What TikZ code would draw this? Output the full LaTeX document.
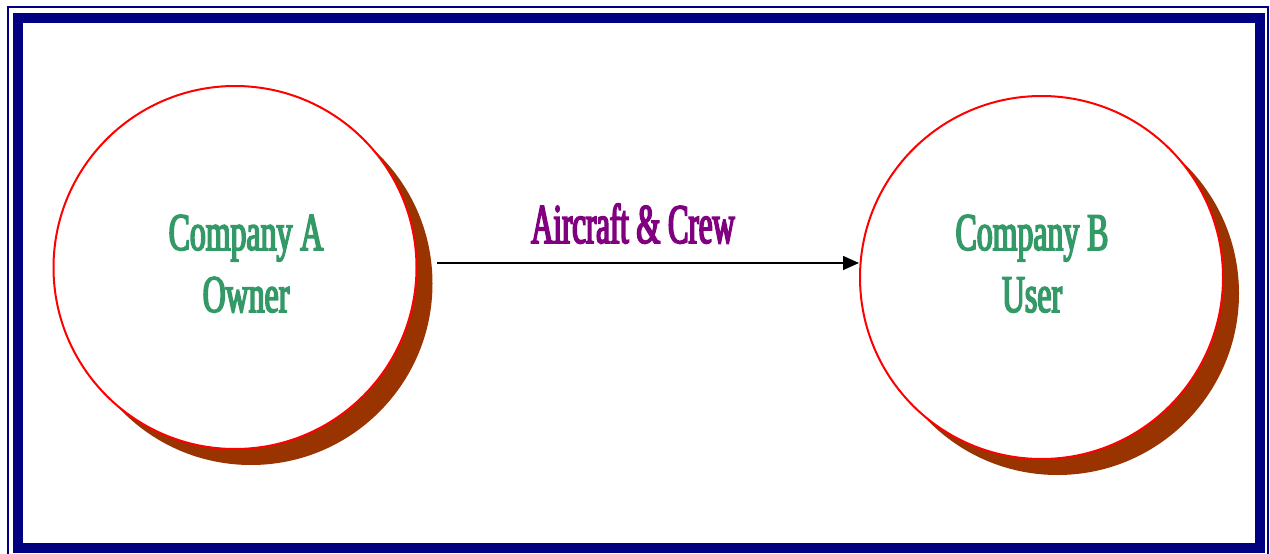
\documentclass[tikz,border=0pt]{standalone}
\usepackage{fontspec}
\usetikzlibrary{shadows,arrows.meta}
\newfontfamily\condfont[FakeStretch=0.6,FakeBold=3]{Liberation Serif}
\newfontfamily\labfont[FakeStretch=0.55,FakeBold=3]{Liberation Serif}
\definecolor{navy}{HTML}{000080}
\definecolor{ringred}{HTML}{FF0000}
\definecolor{shadowbrown}{HTML}{993300}
\definecolor{txtgreen}{HTML}{339966}
\definecolor{txtpurple}{HTML}{800080}
\tikzset{
  company/.style={circle, draw=ringred, line width=2pt, fill=white, minimum size=363pt, inner sep=0pt,
    drop shadow={shadow xshift=16pt, shadow yshift=-16pt, fill=shadowbrown, opacity=1}},
  nametext/.style={anchor=base, text=txtgreen, font=\condfont\fontsize{53}{62}\selectfont, inner sep=0pt},
  flowlabel/.style={anchor=base, text=txtpurple, font=\labfont\fontsize{56}{66}\selectfont, inner sep=0pt},
  flow/.style={draw=black, line width=1.5pt, -{Triangle[length=16pt,width=14pt]}}
}
\begin{document}
\begin{tikzpicture}[x=1pt,y=-1pt]
\useasboundingbox (0,0) rectangle (1270,554);
\clip (0,0) rectangle (1270,554);
\fill[white] (0,0) rectangle (1270,554);
% frame
\draw[navy, line width=2pt] (8,7) rectangle (1268,558);
\draw[navy, line width=10pt] (18,17.5) rectangle (1260,548);
% companies
\node[company] (A) at (235,267.5) {};
\node[company] (B) at (1041.5,277.5) {};
\node[nametext] (A1) at (246,250) {Company A};
\node[nametext] (A2) at (246,312) {Owner};
\node[nametext] (B1) at (1032,250) {Company B};
\node[nametext] (B2) at (1032,312) {User};
% flow
\coordinate (s) at (437,263);
\draw[flow] (s) -- (s -| B.west);
\node[flowlabel] (L) at (633,243) {Aircraft \& Crew};
\end{tikzpicture}
\end{document}
